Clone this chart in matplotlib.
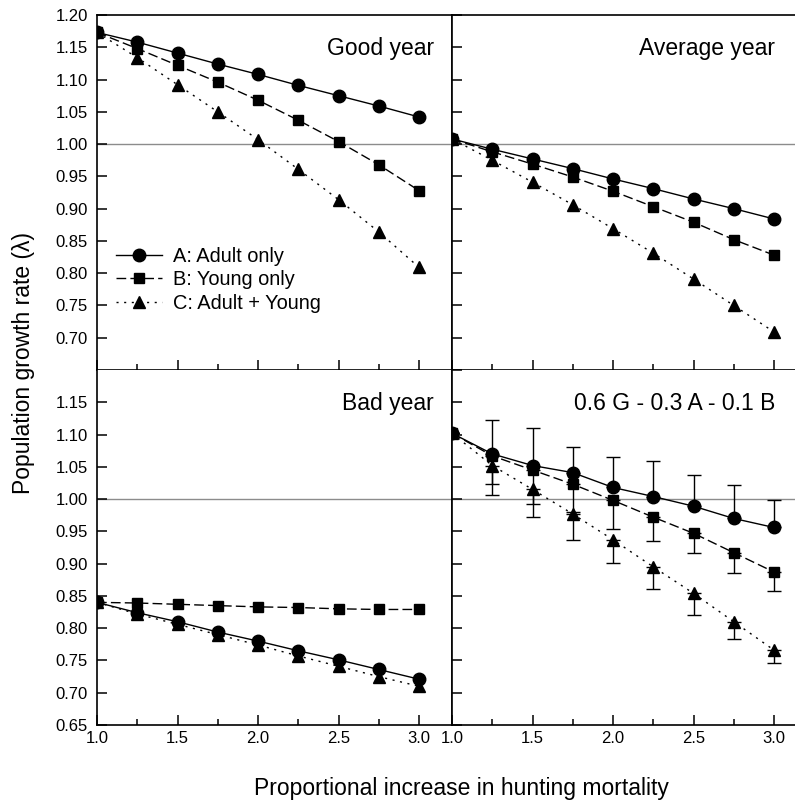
import matplotlib
matplotlib.use("Agg")
import matplotlib.pyplot as plt
from matplotlib.ticker import MultipleLocator, FixedLocator

plt.rcParams["font.family"] = ["Liberation Sans", "DejaVu Sans"]

mortality = [1.0, 1.25, 1.5, 1.75, 2.0, 2.25, 2.5, 2.75, 3.0]

# Good year
good_a = [1.173, 1.158, 1.141, 1.124, 1.108, 1.091, 1.075, 1.059, 1.042]
good_b = [1.173, 1.148, 1.122, 1.096, 1.068, 1.037, 1.004, 0.968, 0.928]
good_c = [1.173, 1.134, 1.092, 1.050, 1.007, 0.961, 0.914, 0.864, 0.809]

# Average year
avg_a = [1.008, 0.992, 0.977, 0.962, 0.946, 0.931, 0.915, 0.900, 0.884]
avg_b = [1.008, 0.988, 0.969, 0.949, 0.927, 0.903, 0.879, 0.852, 0.828]
avg_c = [1.008, 0.975, 0.941, 0.906, 0.869, 0.831, 0.791, 0.750, 0.709]

# Bad year
bad_a = [0.840, 0.824, 0.810, 0.794, 0.780, 0.765, 0.751, 0.736, 0.721]
bad_b = [0.840, 0.839, 0.837, 0.835, 0.833, 0.832, 0.830, 0.829, 0.829]
bad_c = [0.840, 0.822, 0.806, 0.790, 0.774, 0.757, 0.741, 0.725, 0.710]

# Mixture 0.6 G - 0.3 A - 0.1 B, with error bar ends
mix_a = [1.102, 1.070, 1.052, 1.041, 1.018, 1.004, 0.989, 0.970, 0.956]
mix_b = [1.102, 1.067, 1.045, 1.023, 0.998, 0.972, 0.947, 0.917, 0.887]
mix_c = [1.102, 1.052, 1.015, 0.977, 0.937, 0.895, 0.854, 0.810, 0.766]
mix_a_upper = [1.102, 1.123, 1.110, 1.081, 1.065, 1.059, 1.038, 1.022, 0.999]
mix_b_lower = [1.102, 1.023, 0.993, 0.980, 0.953, 0.935, 0.916, 0.885, 0.858]
mix_c_lower = [1.102, 1.007, 0.972, 0.936, 0.901, 0.861, 0.820, 0.784, 0.746]

labels = ["A: Adult only", "B: Young only", "C: Adult + Young"]
panel_titles = ["Good year", "Average year", "Bad year", "0.6 G - 0.3 A - 0.1 B"]

styles = [
    dict(marker="o", markersize=9, linestyle="-"),
    dict(marker="s", markersize=7.5, linestyle=(0, (7, 3))),
    dict(marker="^", markersize=8.4, linestyle=(0, (1.5, 4))),
]

fig = plt.figure(figsize=(7.95, 8.0), dpi=100)
W, H = 795, 800


def make_ax(x0, y0):
    # pixel box -> figure fraction
    return fig.add_axes([x0 / W, 1 - (y0 + 355) / H, 355 / W, 355 / H])


ax_good = make_ax(97, 15)
ax_avg = make_ax(452, 15)
ax_bad = make_ax(97, 370)
ax_mix = make_ax(452, 370)
axes = [ax_good, ax_avg, ax_bad, ax_mix]
series = [
    (good_a, good_b, good_c),
    (avg_a, avg_b, avg_c),
    (bad_a, bad_b, bad_c),
    (mix_a, mix_b, mix_c),
]

for ax, data, title in zip(axes, series, panel_titles):
    ax.axhline(1.0, color="#8c8c8c", linewidth=1, zorder=1)
    for vals, st, lab in zip(data, styles, labels):
        ax.plot(mortality, vals, color="black", linewidth=1,
                markerfacecolor="black", markeredgecolor="black",
                label=lab, zorder=3, **st)
    ax.set_xlim(1.0, 1.0 + 355 / 322 * 2)
    ax.set_ylim(0.65, 1.20)
    ax.xaxis.set_major_locator(MultipleLocator(0.5))
    ax.xaxis.set_minor_locator(MultipleLocator(0.25))
    ax.yaxis.set_major_locator(MultipleLocator(0.05))
    ax.tick_params(axis="both", which="major", direction="in", length=7,
                   width=1.1, labelsize=12, top=False, right=False)
    ax.tick_params(axis="y", pad=6.5)
    ax.tick_params(axis="x", which="minor", direction="in", length=4,
                   width=1.1, top=False)
    for s in ax.spines.values():
        s.set_linewidth(1.2)
    ax.spines["right"].set_visible(False)
    ax.text(0.95 if ax in (ax_good, ax_bad) else 0.91, 0.907, title,
            transform=ax.transAxes, ha="right", va="center", fontsize=16.5)

# mixture error bars: A upward, B and C downward
bar_kw = dict(fmt="none", ecolor="black", elinewidth=1, capsize=5, capthick=1, zorder=2)
ax_mix.errorbar(mortality, mix_a,
                yerr=[[0] * len(mix_a), [u - v for u, v in zip(mix_a_upper, mix_a)]],
                **bar_kw)
ax_mix.errorbar(mortality, mix_b,
                yerr=[[v - l for v, l in zip(mix_b, mix_b_lower)], [0] * len(mix_b)],
                **bar_kw)
ax_mix.errorbar(mortality, mix_c,
                yerr=[[v - l for v, l in zip(mix_c, mix_c_lower)], [0] * len(mix_c)],
                **bar_kw)

# left panels keep a visible right edge (the middle line)
for ax in (ax_good, ax_bad):
    ax.spines["right"].set_visible(True)
for ax in (ax_bad, ax_mix):
    ax.spines["top"].set_visible(False)

ax_good.yaxis.set_major_locator(FixedLocator([0.70, 0.75, 0.80, 0.85, 0.90, 0.95,
                                              1.00, 1.05, 1.10, 1.15, 1.20]))
ax_good.yaxis.set_major_formatter(plt.FuncFormatter(lambda v, p: f"{v:.2f}"))
ax_bad.yaxis.set_major_locator(FixedLocator([0.65, 0.70, 0.75, 0.80, 0.85, 0.90,
                                             0.95, 1.00, 1.05, 1.10, 1.15]))
ax_bad.yaxis.set_major_formatter(plt.FuncFormatter(lambda v, p: f"{v:.2f}"))
for ax in (ax_avg, ax_mix):
    ax.tick_params(axis="y", labelleft=False)
for ax in (ax_good, ax_avg):
    ax.tick_params(axis="x", labelbottom=False)
for ax in (ax_bad, ax_mix):
    ax.xaxis.set_major_formatter(plt.FuncFormatter(lambda v, p: f"{v:.1f}"))
    ax.tick_params(axis="x", pad=4.5)

ax_good.legend(loc="center left", bbox_to_anchor=(0.054, 0.254), frameon=False,
               fontsize=14.4, borderpad=0, borderaxespad=0, handlelength=2.3,
               handletextpad=0.55, labelspacing=0.22)

fig.text(0.029, 0.546, "Population growth rate (\u03bb)", rotation=90,
         ha="center", va="center", fontsize=16.5)
fig.text(0.58, 0.015, "Proportional increase in hunting mortality",
         ha="center", va="center", fontsize=16.5)

fig.savefig("out.png", dpi=100)
